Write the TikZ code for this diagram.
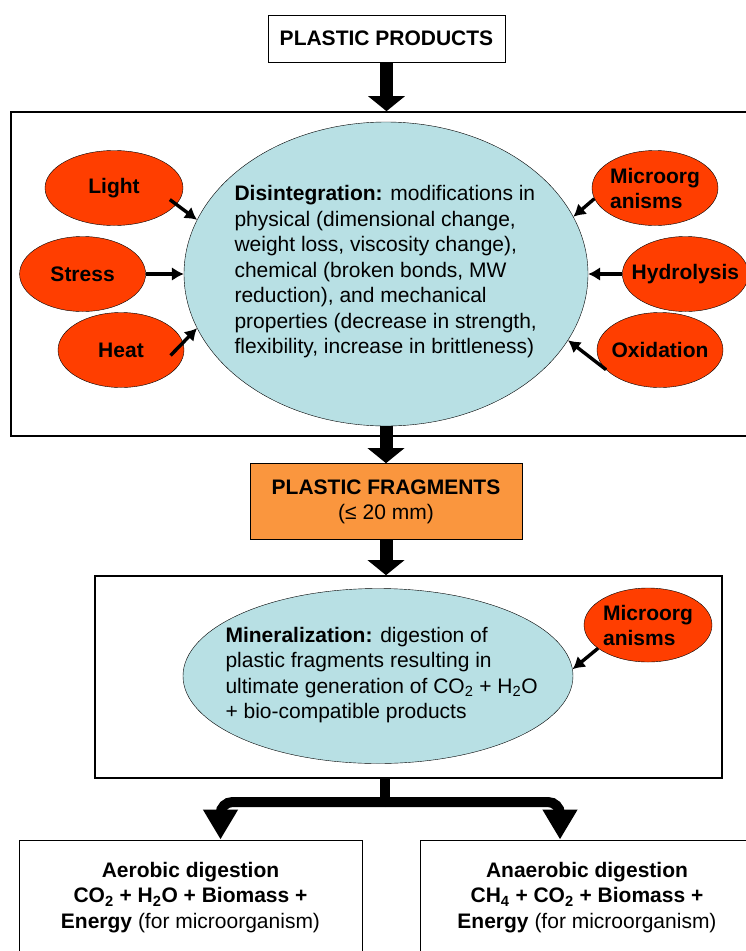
\documentclass[tikz,border=0pt]{standalone}
\usepackage{fontspec}
\setmainfont{Liberation Sans}
\usetikzlibrary{positioning,arrows.meta,shapes.geometric}
\definecolor{factorred}{RGB}{255,62,0}
\definecolor{stageblue}{RGB}{184,224,228}
\definecolor{fragorange}{RGB}{250,150,62}

\begin{document}
\begin{tikzpicture}[
  x=1pt, y=-1pt,
  font=\fontsize{21}{25.5}\selectfont,
  frame/.style={draw, line width=1.6pt, inner sep=0pt},
  box/.style={draw, line width=0.9pt, align=center, inner sep=0pt},
  factor/.style={ellipse, draw, fill=factorred, inner xsep=-14pt, inner ysep=0pt, minimum width=126pt, minimum height=75pt, align=left, font=\fontsize{21}{25}\selectfont\bfseries},
  stage/.style={ellipse, draw, fill=stageblue, inner sep=0pt},
  arr/.style={-{Latex[length=12pt,width=14pt]}, line width=3.4pt},
  bigarr/.style={-{Triangle[length=15pt,width=36pt]}, line width=13pt},
  forkarr/.style={-{Triangle[length=30pt,width=33pt]}, line width=10pt, rounded corners=12pt}
]
\useasboundingbox (0,0) rectangle (745,951);

% disintegration stage
\node[box, fill=white, minimum width=237pt, minimum height=47pt, font=\fontsize{21}{25}\selectfont\bfseries] (prod) at (386.5,38.5) {PLASTIC PRODUCTS};
\node[frame, minimum width=740pt, minimum height=324pt] (box1) at (381,274) {};
\node[stage, minimum width=404pt, minimum height=304pt] (dis) at (386,274) {};
\node[align=left, anchor=west] (distext) at (231,272) {\textbf{Disintegration:} modifications in\\
physical (dimensional change,\\
weight loss, viscosity change),\\
chemical (broken bonds, MW\\
reduction), and mechanical\\
properties (decrease in strength,\\
flexibility, increase in brittleness)};

\node[factor, minimum width=138pt] (light) at (114,188) {Light};
\node[factor, left=38pt of dis] (stress) {Stress};
\node[factor] (heat) at (121,350) {Heat};
\node[factor] (micro) at (655,188) {Microorg\\anisms};
\node[factor, right=34pt of dis] (hydro) {Hydrolysis};
\node[factor] (oxid) at (660,350) {Oxidation};

% fragments and mineralization
\node[box, fill=fragorange, minimum width=272pt, minimum height=76pt, below=37pt of dis] (frag) {\textbf{PLASTIC FRAGMENTS}\\(≤ 20 mm)};
\node[frame, minimum width=627pt, minimum height=202pt] (box2) at (408.5,677) {};
\node[stage, minimum width=390pt, minimum height=175pt] (min) at (378,676) {};
\node[align=left, anchor=west] (mintext) at (222,675) {\textbf{Mineralization:} digestion of\\
plastic fragments resulting in\\
ultimate generation of CO\textsubscript{2} + H\textsubscript{2}O\\
+ bio-compatible products};
\node[factor, minimum width=128pt, minimum height=74pt] (micro2) at (648,625) {Microorg\\anisms};

% end products
\node[box, minimum width=343pt, minimum height=115pt] (aer) at (190.5,897.5) {\textbf{Aerobic digestion}\\
\textbf{CO\textsubscript{2} + H\textsubscript{2}O + Biomass +}\\
\textbf{Energy} (for microorganism)};
\node[box, minimum width=334pt, minimum height=115pt] (ana) at (587,897.5) {\textbf{Anaerobic digestion}\\
\textbf{CH\textsubscript{4} + CO\textsubscript{2} + Biomass +}\\
\textbf{Energy} (for microorganism)};
\coordinate (fork) at (385,802);

\draw[bigarr] (prod.south) -- (prod.south |- box1.north);
\draw[bigarr] (dis.south) -- (frag);
\draw[bigarr] (frag) -- (frag |- box2.north);
\draw[line width=10pt] (box2.south -| fork) -- (fork);
\draw[forkarr] (fork) -| ([xshift=30pt]aer.north);
\draw[forkarr] (fork) -| ([xshift=-27pt]ana.north);

\draw[arr] ([xshift=-10pt]light.-10) -- (dis.164);
\draw[arr] (stress) -- (dis);
\draw[arr] ([xshift=-13pt]heat.-5) -- (dis.196);
\draw[arr] (micro.190) -- (dis.17);
\draw[arr] (hydro) -- (dis);
\draw[arr] (oxid.200) -- (dis.-20);
\draw[arr] (micro2.205) -- (min.2);
\end{tikzpicture}
\end{document}
